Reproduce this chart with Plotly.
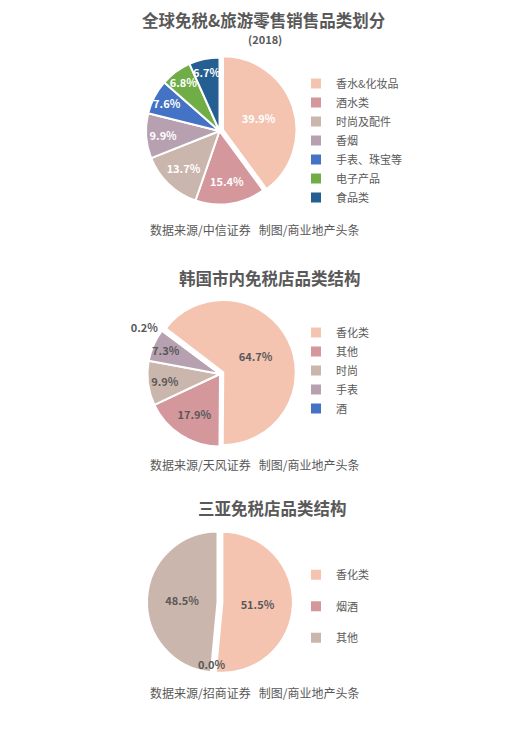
import math
import plotly.graph_objects as go

# 全球免税&旅游零售销售品类划分 (2018)
global_labels = ["香水&化妆品", "酒水类", "时尚及配件", "香烟", "手表、珠宝等", "电子产品", "食品类"]
global_values = [39.9, 15.4, 13.7, 9.9, 7.6, 6.8, 6.7]
global_colors = ["#F4C4B1", "#D3979C", "#CAB6AC", "#B7A0AF", "#4472C4", "#70AD47", "#255E91"]

# 韩国市内免税店品类结构
korea_labels = ["香化类", "其他", "时尚", "手表", "酒"]
korea_values = [64.7, 17.9, 9.9, 7.3, 0.2]
korea_colors = ["#F4C4B1", "#D3979C", "#CAB6AC", "#B7A0AF", "#4472C4"]

# 三亚免税店品类结构
sanya_labels = ["香化类", "烟酒", "其他"]
sanya_values = [51.5, 0.0, 48.5]
sanya_colors = ["#F4C4B1", "#D3979C", "#CAB6AC"]

FONT = "Noto Sans CJK SC"
GREY = "#595959"
W, H = 512, 738
OFF = 8  # page body margin


def px_x(v):
    return (v - OFF) / W


def px_y(v):
    return 1 - (v - OFF) / H


def pie_domain(cx, cy, r, pull):
    half = r * (1 + pull)
    return dict(x=[px_x(cx - half), px_x(cx + half)],
                y=[px_y(cy + half), px_y(cy - half)])


def label_tpl(values):
    return ["%{value:.1f}%" if v > 0 else "" for v in values]


fig = go.Figure()

fig.add_trace(go.Pie(
    labels=global_labels, values=global_values, sort=False, direction="clockwise",
    rotation=0, pull=[0.05, 0, 0, 0, 0, 0, 0],
    marker=dict(colors=global_colors, line=dict(color="white", width=2)),
    texttemplate=label_tpl(global_values), textposition="inside",
    insidetextorientation="horizontal",
    textfont=dict(family=FONT, size=11, color="white", weight="bold"),
    domain=pie_domain(219.5, 131, 73.5, 0.05), legend="legend", hoverinfo="label+value",
))

fig.add_trace(go.Pie(
    labels=korea_labels, values=korea_values, sort=False, direction="clockwise",
    rotation=-52.5, pull=[0.05, 0, 0, 0, 0],
    marker=dict(colors=korea_colors, line=dict(color="white", width=2)),
    texttemplate=label_tpl(korea_values),
    textposition=["inside", "inside", "inside", "inside", "outside"],
    insidetextorientation="horizontal",
    textfont=dict(family=FONT, size=11, color=GREY, weight="bold"),
    domain=pie_domain(220, 374, 72.5, 0.05), legend="legend2", hoverinfo="label+value",
))

sanya_c = (217.5, 602, 70.5)
fig.add_trace(go.Pie(
    labels=[l + "<br> " for l in sanya_labels], values=sanya_values, sort=False,
    direction="clockwise", rotation=0, pull=[0.07, 0, 0],
    marker=dict(colors=sanya_colors, line=dict(color="white", width=2)),
    texttemplate=label_tpl(sanya_values), textposition="inside",
    insidetextorientation="horizontal",
    textfont=dict(family=FONT, size=11, color=GREY, weight="bold"),
    domain=pie_domain(sanya_c[0], sanya_c[1], sanya_c[2], 0.07), legend="legend3",
    hoverinfo="label+value",
))

# zero-value slice label, placed on the slice's angle near the rim
total = sum(sanya_values)
acc = 0
for v in sanya_values:
    if v == 0:
        ang = math.radians(acc / total * 360)
        lx = sanya_c[0] + 0.88 * sanya_c[2] * math.sin(ang)
        ly = sanya_c[1] - 0.88 * sanya_c[2] * math.cos(ang)
        fig.add_annotation(text=f"{v:.1f}%", x=px_x(lx), y=px_y(ly), xref="paper", yref="paper",
                           showarrow=False, xanchor="center", yanchor="middle",
                           font=dict(family=FONT, size=11, color=GREY, weight="bold"))
    acc += v

leg = dict(font=dict(family=FONT, size=11, color=GREY), bgcolor="rgba(0,0,0,0)",
           xanchor="left", yanchor="top", itemclick=False)
fig.update_layout(
    legend=dict(leg, x=px_x(296), y=px_y(69)),
    legend2=dict(leg, x=px_x(296), y=px_y(318)),
    legend3=dict(leg, x=px_x(296), y=px_y(561), valign="top"),
)

titles = [
    ("全球免税&旅游零售销售品类划分", 264, 20, 16.5),
    ("(2018)", 265, 39, 11),
    ("韩国市内免税店品类结构", 270, 278, 16.5),
    ("三亚免税店品类结构", 272, 508, 16.5),
]
for text, x, y, size in titles:
    fig.add_annotation(text=text, x=px_x(x), y=px_y(y), xref="paper", yref="paper",
                       showarrow=False, xanchor="center", yanchor="middle",
                       font=dict(family=FONT, size=size, color=GREY, weight="bold"))

sources = [("数据来源/中信证券", 230), ("数据来源/天风证券", 464), ("数据来源/招商证券", 692)]
for src, y in sources:
    fig.add_annotation(text=src + "   制图/商业地产头条", x=px_x(254), y=px_y(y),
                       xref="paper", yref="paper", showarrow=False,
                       xanchor="center", yanchor="middle",
                       font=dict(family=FONT, size=12, color=GREY))

fig.update_layout(
    width=W, height=H, margin=dict(l=0, r=0, t=0, b=0),
    paper_bgcolor="white", plot_bgcolor="white",
    font=dict(family=FONT, color=GREY),
    uniformtext=dict(minsize=11, mode="show"),
)

fig.write_html("out.html")
